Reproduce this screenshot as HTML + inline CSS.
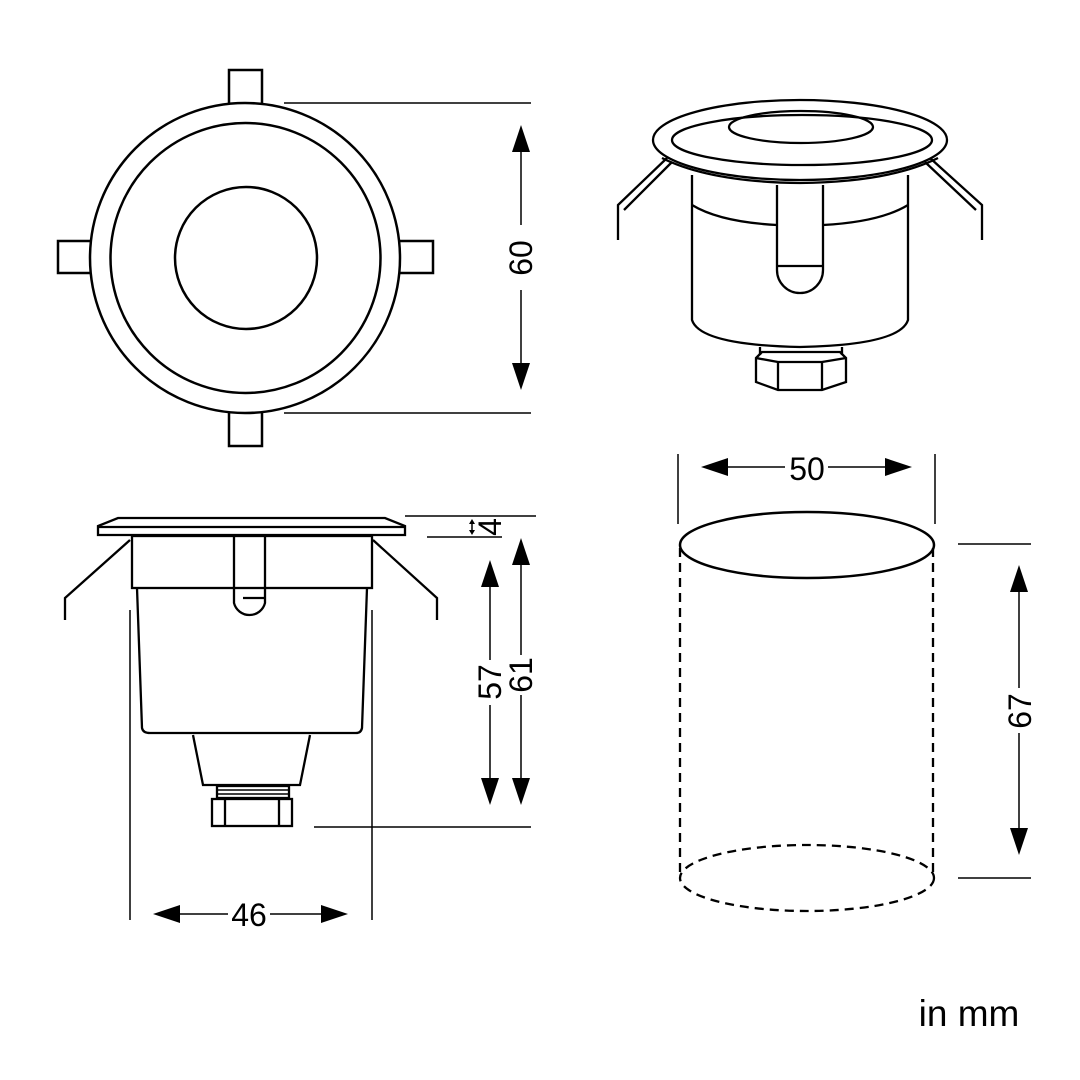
<!DOCTYPE html>
<html><head><style>html,body{margin:0;padding:0;background:#fff}svg{display:block}</style></head>
<body>
<svg width="1080" height="1080" viewBox="0 0 1080 1080" xmlns="http://www.w3.org/2000/svg" font-family="Liberation Sans, DejaVu Sans, sans-serif">
<g fill="none" stroke="#000" stroke-width="2.5">
<rect x="229" y="70" width="33" height="36" fill="#fff"/>
<rect x="229" y="410" width="33" height="36" fill="#fff"/>
<rect x="58" y="241" width="36" height="32" fill="#fff"/>
<rect x="397" y="241" width="36" height="32" fill="#fff"/>
<circle cx="245" cy="258" r="155" fill="#fff"/>
<circle cx="245.5" cy="258" r="135"/>
<circle cx="246" cy="258" r="71"/>
</g>
<g stroke="#000" stroke-width="1.5">
<line x1="284" y1="103" x2="531" y2="103"/>
<line x1="284" y1="413" x2="531" y2="413"/>
<line x1="521" y1="150" x2="521" y2="225"/>
<line x1="521" y1="290" x2="521" y2="365"/>
</g>
<polygon points="521,125 512,152 530,152"/>
<polygon points="521,390 512,363 530,363"/>
<text font-size="32" transform="translate(532,258) rotate(-90)" text-anchor="middle">60</text>

<g fill="none" stroke="#000" stroke-width="2.3">
<path d="M667,158 L618,205 L618,240 M672,162 L624,210"/>
<path d="M930,158 L982,205 L982,240 M925,162 L976,210"/>
<path d="M692,175 L692,320 Q700,345 800,347 Q900,345 908,320 L908,175"/>
<path d="M692,205 Q720,222 777,225 M823,225 Q880,222 908,205"/>
<path d="M777,185 L777,270 A23,23 0 0 0 823,270 L823,185"/>
<line x1="777" y1="266" x2="823" y2="266"/>
<ellipse cx="800" cy="140" rx="147" ry="40" fill="#fff"/>
<path d="M662,158 Q710,182 800,183 Q890,182 938,158"/>
<ellipse cx="802" cy="140" rx="130" ry="25"/>
<ellipse cx="801" cy="127" rx="72" ry="16"/>
<path d="M760,347 L760,355 M842,347 L842,355"/>
<path d="M762,352 L756,358 L756,382 L778,390 L822,390 L846,382 L846,358 L840,352 Z"/>
<path d="M778,362 L822,362 M778,362 L778,390 M822,362 L822,390 M756,358 L778,362 M846,358 L822,362"/>
</g>

<g fill="none" stroke="#000" stroke-width="2.3">
<path d="M118,518 L385,518 L405,526 L405,535 L98,535 L98,526 Z"/>
<line x1="98" y1="527" x2="405" y2="527"/>
<rect x="132" y="536" width="240" height="52"/>
<path d="M137,588 L142,728 Q143,733 150,733 L356,733 Q361,733 362,728 L367,588"/>
<path d="M193,735 L203,785 L300,785 L310,735"/>
<path d="M234,537 L234,603 A16,16 0 0 0 265,603 L265,537"/>
<line x1="243" y1="598" x2="265" y2="598"/>
<path d="M130,540 L65,598 L65,620"/>
<path d="M373,540 L437,598 L437,620"/>
<rect x="217" y="786" width="72" height="12"/>
<line x1="217" y1="790" x2="289" y2="790" stroke-width="1.5"/>
<line x1="217" y1="794" x2="289" y2="794" stroke-width="1.5"/>
<rect x="212" y="799" width="80" height="27"/>
<line x1="225" y1="799" x2="225" y2="826"/>
<line x1="279" y1="799" x2="279" y2="826"/>
</g>
<g stroke="#000" stroke-width="1.5">
<line x1="130" y1="610" x2="130" y2="920"/>
<line x1="372" y1="610" x2="372" y2="920"/>
<line x1="314" y1="827" x2="531" y2="827"/>
<line x1="405" y1="516" x2="536" y2="516"/>
<line x1="427" y1="537" x2="502" y2="537"/>
<line x1="472" y1="522" x2="472" y2="532"/>
<line x1="490" y1="585" x2="490" y2="660"/>
<line x1="490" y1="705" x2="490" y2="780"/>
<line x1="521" y1="565" x2="521" y2="655"/>
<line x1="521" y1="695" x2="521" y2="780"/>
<line x1="178" y1="914" x2="228" y2="914"/>
<line x1="270" y1="914" x2="323" y2="914"/>
</g>
<polygon points="472,519 469,524 475,524"/>
<polygon points="472,535 469,530 475,530"/>
<polygon points="490,560 481,587 499,587"/>
<polygon points="490,805 481,778 499,778"/>
<polygon points="521,538 512,565 530,565"/>
<polygon points="521,805 512,778 530,778"/>
<polygon points="153,914 180,905 180,923"/>
<polygon points="348,914 321,905 321,923"/>
<text font-size="32" transform="translate(501,527) rotate(-90)" text-anchor="middle">4</text>
<text font-size="32" transform="translate(501,682) rotate(-90)" text-anchor="middle">57</text>
<text font-size="32" transform="translate(532,675) rotate(-90)" text-anchor="middle">61</text>
<text x="249" y="926" font-size="32" text-anchor="middle">46</text>

<g fill="none" stroke="#000">
<line x1="678" y1="454" x2="678" y2="524" stroke-width="1.5"/>
<line x1="935" y1="454" x2="935" y2="524" stroke-width="1.5"/>
<line x1="958" y1="544" x2="1031" y2="544" stroke-width="1.5"/>
<line x1="958" y1="878" x2="1031" y2="878" stroke-width="1.5"/>
<g stroke-width="2.3" stroke-dasharray="9,6">
<line x1="680" y1="548" x2="680" y2="878"/>
<line x1="933" y1="548" x2="933" y2="878"/>
<ellipse cx="807" cy="878" rx="127" ry="33"/>
</g>
<ellipse cx="807" cy="545" rx="127" ry="33" stroke-width="2.5"/>
<line x1="725" y1="467" x2="785" y2="467" stroke-width="1.5"/>
<line x1="828" y1="467" x2="888" y2="467" stroke-width="1.5"/>
<line x1="1019" y1="590" x2="1019" y2="688" stroke-width="1.5"/>
<line x1="1019" y1="733" x2="1019" y2="830" stroke-width="1.5"/>
</g>
<polygon points="701,467 728,458 728,476"/>
<polygon points="912,467 885,458 885,476"/>
<polygon points="1019,565 1010,592 1028,592"/>
<polygon points="1019,855 1010,828 1028,828"/>
<text x="807" y="480" font-size="32" text-anchor="middle">50</text>
<text font-size="32" transform="translate(1031,711) rotate(-90)" text-anchor="middle">67</text>

<text x="969" y="1026" font-size="37" text-anchor="middle">in mm</text>
</svg>
</body></html>
